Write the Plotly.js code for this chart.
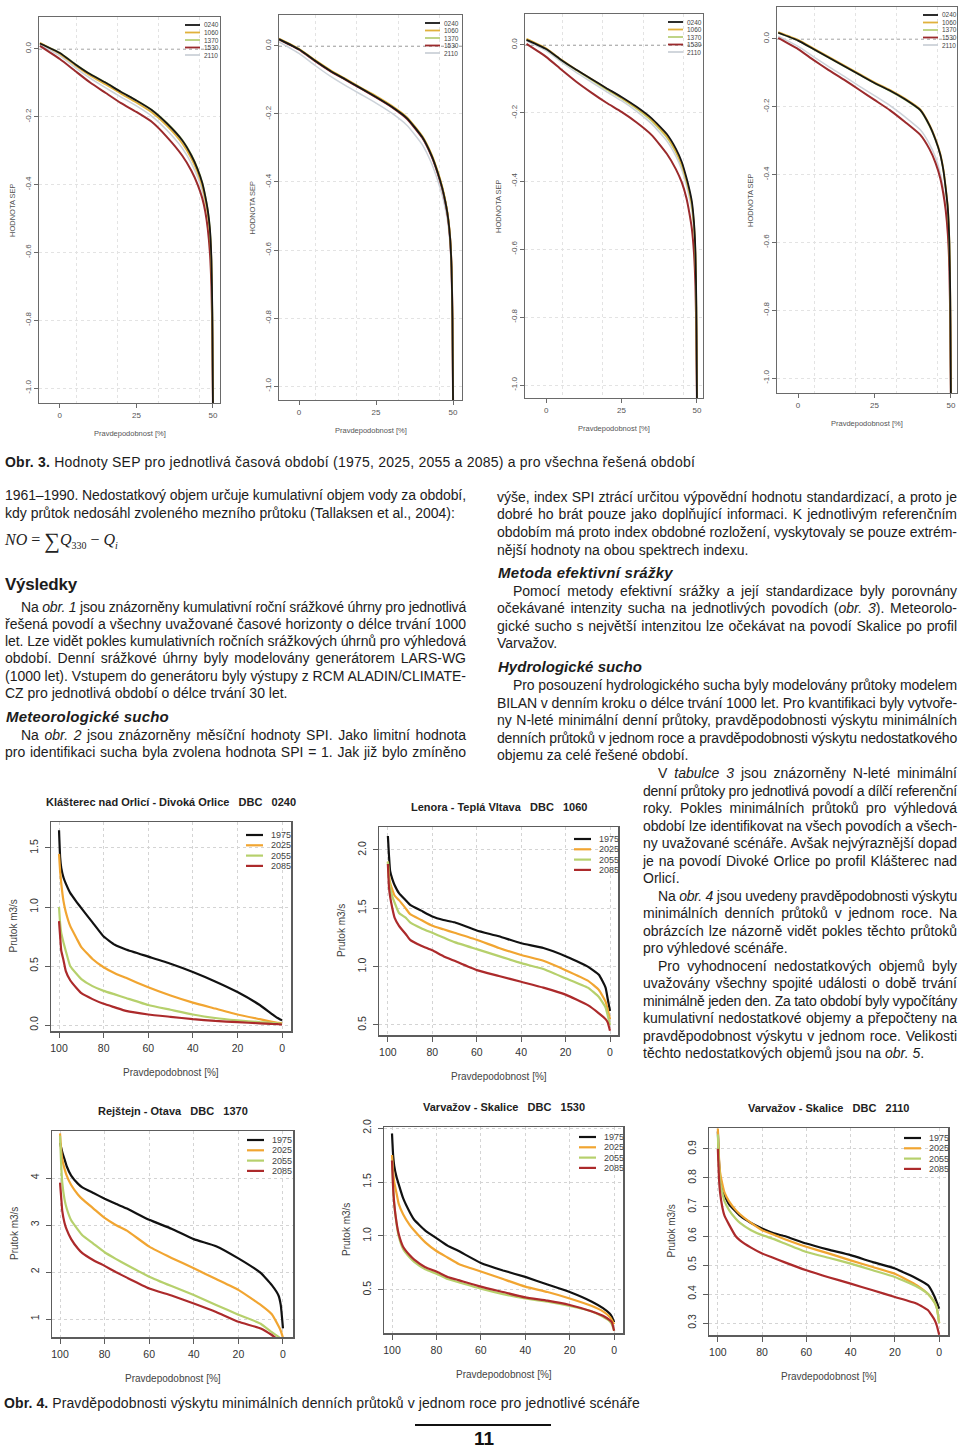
<!DOCTYPE html>
<html><head><meta charset="utf-8">
<script src="https://cdn.plot.ly/plotly-3.0.1.min.js"></script>
<style>
body{margin:0;width:960px;height:1448px;position:relative;background:#fff;font-family:"Liberation Sans",Arial,sans-serif;color:#1c1c1c;overflow:hidden}
.pc{position:absolute}
.ln{position:absolute;white-space:nowrap;font-size:14px;line-height:18px;height:18px}
.ln span{white-space:nowrap}
.h1{font-size:17px;font-weight:bold}
.h2{font-size:15px;font-weight:bold;font-style:italic}
</style></head><body>
<script>
// ---------- Obr. 3: SEP curves ----------
const sepX = [-6.5,0,5,10,15,20,25,30,35,40,43,45,46.5,47.5,48.3,49,49.5,49.8,50];
const sepBasins = ['0240','1060','1370','1530','2110'];
const sepPeriods = ['1975','2025','2055','2085'];

const sep1975_0240 = [0.016,-0.012,-0.045,-0.075,-0.1,-0.127,-0.152,-0.18,-0.22,-0.27,-0.315,-0.355,-0.395,-0.435,-0.475,-0.53,-0.62,-0.78,-1.05];
const sep1975_1060 = [0.018,-0.014,-0.048,-0.079,-0.105,-0.132,-0.158,-0.187,-0.227,-0.279,-0.324,-0.364,-0.404,-0.444,-0.486,-0.54,-0.63,-0.79,-1.05];
const sep1975_1370 = [0.016,-0.011,-0.044,-0.074,-0.099,-0.126,-0.151,-0.179,-0.218,-0.268,-0.312,-0.352,-0.392,-0.432,-0.472,-0.525,-0.615,-0.77,-1.05];
const sep1975_1530 = [0.009,-0.03,-0.065,-0.1,-0.13,-0.16,-0.186,-0.215,-0.26,-0.315,-0.36,-0.4,-0.44,-0.48,-0.53,-0.6,-0.7,-0.85,-1.05];
const sep1975_2110 = [0.013,-0.02,-0.055,-0.087,-0.115,-0.142,-0.168,-0.198,-0.24,-0.293,-0.338,-0.378,-0.418,-0.458,-0.5,-0.56,-0.66,-0.8,-1.05];

const sep2025_0240 = [0.02,-0.01,-0.042,-0.072,-0.098,-0.124,-0.15,-0.178,-0.212,-0.268,-0.322,-0.372,-0.418,-0.458,-0.5,-0.56,-0.65,-0.8,-1.05];
const sep2025_1060 = [0.022,-0.008,-0.04,-0.07,-0.096,-0.122,-0.147,-0.175,-0.209,-0.265,-0.318,-0.368,-0.414,-0.454,-0.496,-0.555,-0.645,-0.79,-1.05];
const sep2025_1370 = [0.02,-0.009,-0.041,-0.071,-0.097,-0.123,-0.149,-0.177,-0.211,-0.267,-0.32,-0.37,-0.416,-0.456,-0.498,-0.558,-0.648,-0.795,-1.05];
const sep2025_1530 = [0.019,-0.011,-0.043,-0.073,-0.099,-0.125,-0.151,-0.179,-0.214,-0.27,-0.324,-0.374,-0.42,-0.46,-0.502,-0.562,-0.652,-0.8,-1.05];
const sep2025_2110 = [0.012,-0.022,-0.056,-0.088,-0.116,-0.142,-0.168,-0.197,-0.233,-0.29,-0.345,-0.395,-0.44,-0.48,-0.52,-0.58,-0.67,-0.82,-1.05];

const sep2055_0240 = [0.015,-0.012,-0.044,-0.073,-0.1,-0.127,-0.153,-0.182,-0.216,-0.262,-0.305,-0.345,-0.39,-0.425,-0.46,-0.52,-0.61,-0.77,-1.05];
const sep2055_1060 = [0.018,-0.01,-0.043,-0.073,-0.1,-0.128,-0.155,-0.185,-0.22,-0.268,-0.312,-0.352,-0.397,-0.432,-0.468,-0.528,-0.618,-0.78,-1.05];
const sep2055_1370 = [0.016,-0.012,-0.045,-0.075,-0.103,-0.131,-0.158,-0.188,-0.224,-0.272,-0.316,-0.356,-0.4,-0.436,-0.472,-0.532,-0.622,-0.785,-1.05];
const sep2055_1530 = [0.003,-0.035,-0.072,-0.108,-0.14,-0.17,-0.197,-0.228,-0.265,-0.32,-0.365,-0.405,-0.45,-0.495,-0.54,-0.61,-0.71,-0.86,-1.05];
const sep2055_2110 = [0.012,-0.017,-0.05,-0.081,-0.109,-0.137,-0.164,-0.195,-0.232,-0.282,-0.327,-0.368,-0.413,-0.45,-0.488,-0.55,-0.64,-0.8,-1.05];

const sep2085_0240 = [0.018,-0.005,-0.03,-0.055,-0.08,-0.105,-0.13,-0.152,-0.178,-0.21,-0.255,-0.298,-0.34,-0.385,-0.44,-0.5,-0.6,-0.77,-1.05];
const sep2085_1060 = [0.02,-0.003,-0.028,-0.053,-0.078,-0.103,-0.128,-0.15,-0.176,-0.208,-0.253,-0.295,-0.337,-0.382,-0.437,-0.497,-0.597,-0.765,-1.05];
const sep2085_1370 = [0.017,-0.006,-0.031,-0.056,-0.081,-0.106,-0.131,-0.154,-0.18,-0.212,-0.258,-0.3,-0.342,-0.387,-0.442,-0.502,-0.602,-0.775,-1.05];
const sep2085_1530 = [0.003,-0.03,-0.062,-0.092,-0.12,-0.15,-0.18,-0.21,-0.245,-0.283,-0.325,-0.366,-0.41,-0.455,-0.505,-0.575,-0.675,-0.84,-1.05];
const sep2085_2110 = [0.008,-0.022,-0.052,-0.082,-0.11,-0.139,-0.167,-0.196,-0.23,-0.268,-0.31,-0.35,-0.395,-0.44,-0.49,-0.56,-0.66,-0.82,-1.05];

const sepYTicks = [0,-0.2,-0.4,-0.6,-0.8,-1.0];
const sepYTickText = ['0.0','-0.2','-0.4','-0.6','-0.8','-1.0'];
const sepXTicks = [0,25,50];

// ---------- Obr. 4: minimum daily flows ----------
const fdcX = [100,99.5,99,98,97,95,92,90,85,80,75,70,60,50,40,30,20,10,5,2,1,0];
const fdcYears = ['1975','2025','2055','2085'];
const fdcTitles = [
  'Klášterec nad Orlicí - Divoká Orlice\u00a0\u00a0\u00a0DBC\u00a0\u00a0\u00a00240',
  'Lenora - Teplá Vltava\u00a0\u00a0\u00a0DBC\u00a0\u00a0\u00a01060',
  'Rejštejn - Otava\u00a0\u00a0\u00a0DBC\u00a0\u00a0\u00a01370',
  'Varvažov - Skalice\u00a0\u00a0\u00a0DBC\u00a0\u00a0\u00a01530',
  'Varvažov - Skalice\u00a0\u00a0\u00a0DBC\u00a0\u00a0\u00a02110'
];
const fdc0240_1975 = [1.65,1.42,1.33,1.25,1.2,1.12,1.04,0.99,0.87,0.75,0.68,0.64,0.58,0.52,0.45,0.37,0.28,0.17,0.1,0.06,0.05,0.04];
const fdc0240_2025 = [1.45,1.3,1.2,1.05,0.96,0.84,0.73,0.66,0.56,0.49,0.44,0.4,0.32,0.25,0.19,0.14,0.09,0.05,0.03,0.02,0.018,0.015];
const fdc0240_2055 = [1.0,0.86,0.78,0.7,0.63,0.5,0.43,0.39,0.33,0.29,0.26,0.23,0.17,0.13,0.09,0.06,0.04,0.025,0.02,0.015,0.012,0.01];
const fdc0240_2085 = [0.88,0.75,0.63,0.55,0.46,0.38,0.31,0.27,0.22,0.18,0.15,0.12,0.09,0.07,0.05,0.035,0.025,0.015,0.01,0.008,0.006,0.005];

const fdc1060_1975 = [2.12,1.95,1.82,1.75,1.7,1.63,1.57,1.53,1.48,1.43,1.4,1.38,1.31,1.26,1.2,1.16,1.09,1.0,0.93,0.82,0.72,0.62];
const fdc1060_2025 = [1.9,1.78,1.72,1.66,1.61,1.57,1.5,1.45,1.4,1.35,1.32,1.29,1.23,1.16,1.1,1.05,0.97,0.88,0.8,0.7,0.63,0.55];
const fdc1060_2055 = [1.9,1.75,1.68,1.6,1.55,1.46,1.42,1.38,1.33,1.29,1.25,1.21,1.15,1.09,1.03,0.98,0.9,0.82,0.74,0.65,0.58,0.5];
const fdc1060_2085 = [1.88,1.68,1.6,1.5,1.42,1.35,1.28,1.23,1.18,1.14,1.09,1.05,0.97,0.92,0.87,0.82,0.76,0.67,0.6,0.55,0.52,0.45];

const fdc1370_1975 = [4.75,4.65,4.55,4.4,4.25,4.05,3.88,3.8,3.68,3.56,3.45,3.35,3.11,2.92,2.7,2.55,2.29,1.98,1.72,1.5,1.3,0.8];
const fdc1370_2025 = [4.95,4.6,4.4,4.2,4.05,3.85,3.65,3.55,3.35,3.15,3.0,2.88,2.54,2.3,2.08,1.85,1.62,1.3,1.1,0.85,0.75,0.6];
const fdc1370_2055 = [4.9,4.3,3.9,3.55,3.35,3.1,2.9,2.78,2.6,2.42,2.28,2.15,1.9,1.7,1.51,1.3,1.09,0.9,0.72,0.62,0.58,0.55];
const fdc1370_2085 = [3.9,3.6,3.3,3.05,2.9,2.7,2.5,2.4,2.25,2.13,2.0,1.88,1.65,1.5,1.33,1.15,0.94,0.8,0.66,0.55,0.52,0.5];

const fdc1530_1975 = [1.95,1.75,1.65,1.55,1.48,1.35,1.22,1.15,1.05,0.98,0.91,0.86,0.75,0.68,0.62,0.55,0.48,0.39,0.33,0.28,0.25,0.2];
const fdc1530_2025 = [1.75,1.6,1.5,1.4,1.3,1.2,1.1,1.05,0.94,0.86,0.8,0.74,0.67,0.6,0.53,0.48,0.42,0.35,0.3,0.25,0.22,0.18];
const fdc1530_2055 = [1.7,1.45,1.3,1.12,1.0,0.88,0.8,0.76,0.69,0.65,0.6,0.57,0.51,0.46,0.42,0.39,0.35,0.3,0.25,0.21,0.18,0.12];
const fdc1530_2085 = [1.7,1.45,1.3,1.13,1.02,0.9,0.82,0.78,0.71,0.67,0.62,0.59,0.53,0.48,0.43,0.4,0.36,0.3,0.26,0.22,0.2,0.12];

const fdc2110_1975 = [0.96,0.86,0.8,0.76,0.74,0.71,0.685,0.67,0.645,0.626,0.61,0.6,0.574,0.553,0.534,0.51,0.488,0.453,0.43,0.39,0.37,0.35];
const fdc2110_2025 = [0.97,0.87,0.82,0.78,0.75,0.72,0.69,0.675,0.645,0.62,0.605,0.59,0.563,0.54,0.516,0.493,0.47,0.43,0.4,0.37,0.35,0.3];
const fdc2110_2055 = [0.95,0.84,0.79,0.75,0.72,0.69,0.66,0.645,0.62,0.603,0.59,0.575,0.545,0.525,0.505,0.482,0.459,0.425,0.4,0.37,0.35,0.3];
const fdc2110_2085 = [0.9,0.8,0.75,0.7,0.67,0.64,0.6,0.585,0.56,0.54,0.525,0.51,0.482,0.458,0.436,0.413,0.39,0.367,0.344,0.31,0.29,0.26];

const fdcXTicks = [100,80,60,40,20,0];
const yt0240 = [0,0.5,1.0,1.5], ytt0240 = ['0.0','0.5','1.0','1.5'];
const yt1060 = [0.5,1.0,1.5,2.0], ytt1060 = ['0.5','1.0','1.5','2.0'];
const yt1370 = [1,2,3,4], ytt1370 = ['1','2','3','4'];
const yt1530 = [0.5,1.0,1.5,2.0], ytt1530 = ['0.5','1.0','1.5','2.0'];
const yt2110 = [0.3,0.4,0.5,0.6,0.7,0.8,0.9], ytt2110 = ['0.3','0.4','0.5','0.6','0.7','0.8','0.9'];

// ---------- styles ----------
const FONT = '"Liberation Sans", Arial, sans-serif';
const sepColors = {'0240':'#161616','1060':'#e0b13c','1370':'#b8d07a','1530':'#9b2a2c','2110':'#ccd2d9'};
const sepWidths = {'0240':1.8,'1060':1.8,'1370':1.5,'1530':2,'2110':1.5};
const fdcColors = {'1975':'#111111','2025':'#f1a531','2055':'#b6d06c','2085':'#ac2a2b'};

function frame(id, c, p) {
  const el = document.createElement('div');
  el.id = id; el.className = 'pc';
  el.style.left = c[0]+'px'; el.style.top = c[1]+'px';
  el.style.width = c[2]+'px'; el.style.height = c[3]+'px';
  document.body.appendChild(el);
  return {el, width:c[2], height:c[3],
    margin:{l:p[0]-c[0], t:p[1]-c[1], r:c[0]+c[2]-p[2], b:c[1]+c[3]-p[3], pad:0},
    bw:p[2]-p[0], bh:p[3]-p[1]};
}

function legend(layout, f, names, colors, o) {
  names.forEach((n,i)=>{
    const y = 1 - (o.dy + i*o.step)/f.bh;
    layout.shapes.push({type:'line', xref:'paper', yref:'paper', x0:o.dx/f.bw, x1:(o.dx+o.len)/f.bw, y0:y, y1:y, line:{color:colors[n], width:o.lw}});
    layout.annotations.push({xref:'paper', yref:'paper', x:o.tdx/f.bw, y:y, xanchor:'left', yanchor:'middle', showarrow:false, text:n, font:{family:FONT, size:o.fs, color:'#444'}});
  });
}

// ---------- SEP panels ----------
const sepFrames = [
  {c:[0,0,240,445],   p:[39,17,220,403],  xr:[-6.8,52.3], yr:[-1.044,0.094], ldx:146, ldy:8},
  {c:[240,0,250,445], p:[279,15,462,400], xr:[-6.5,52.9], yr:[-1.041,0.091], ldx:146, ldy:8},
  {c:[490,0,240,445], p:[525,14,703,398], xr:[-7.0,52.0], yr:[-1.038,0.091], ldx:143, ldy:8},
  {c:[730,0,230,445], p:[777,7,957,393],  xr:[-6.9,52.0], yr:[-1.044,0.094], ldx:146, ldy:8}
];
const drawOrder = ['2110','1530','1370','1060','0240'];
sepPeriods.forEach((per, k)=>{
  const cfg = sepFrames[k];
  const f = frame('sep'+per, cfg.c, cfg.p);
  const seriesMap = {
    '1975':{'0240':sep1975_0240,'1060':sep1975_1060,'1370':sep1975_1370,'1530':sep1975_1530,'2110':sep1975_2110},
    '2025':{'0240':sep2025_0240,'1060':sep2025_1060,'1370':sep2025_1370,'1530':sep2025_1530,'2110':sep2025_2110},
    '2055':{'0240':sep2055_0240,'1060':sep2055_1060,'1370':sep2055_1370,'1530':sep2055_1530,'2110':sep2055_2110},
    '2085':{'0240':sep2085_0240,'1060':sep2085_1060,'1370':sep2085_1370,'1530':sep2085_1530,'2110':sep2085_2110}
  }[per];
  const traces = drawOrder.map(b=>({x:sepX, y:seriesMap[b], type:'scatter', mode:'lines', name:b,
    line:{color:sepColors[b], width:sepWidths[b], shape:'spline', smoothing:0.5}, hoverinfo:'skip'}));
  const ax = {showline:true, mirror:true, linecolor:'#6a6a6a', linewidth:1.2, ticks:'outside', ticklen:4, tickwidth:1, tickcolor:'#6a6a6a', zeroline:false,
    tickfont:{family:FONT, size:8, color:'#555'}};
  const layout = {width:f.width, height:f.height, margin:f.margin, paper_bgcolor:'#fff', plot_bgcolor:'#fff', showlegend:false,
    font:{family:FONT, size:8, color:'#555'},
    xaxis:Object.assign({}, ax, {range:cfg.xr, tickmode:'array', tickvals:sepXTicks, showgrid:false,
      minor:{tickmode:'array', tickvals:[5.3,18.7,32.3,45.7], showgrid:true, gridcolor:'#e3e3e3', griddash:'dot', gridwidth:1, ticks:'', ticklen:0}}),
    yaxis:Object.assign({}, ax, {range:cfg.yr, tickmode:'array', tickvals:sepYTicks, ticktext:sepYTickText, tickangle:-90,
      showgrid:true, gridcolor:'#e3e3e3', griddash:'dot', gridwidth:1}),
    shapes:[{type:'line', xref:'paper', x0:0, x1:1, yref:'y', y0:0, y1:0, line:{color:'#555', width:1, dash:'dot'}, layer:'below'}],
    annotations:[
      {xref:'paper', yref:'paper', x:0.5, y:0, yshift:-30, xanchor:'center', yanchor:'middle', showarrow:false, text:'Pravdepodobnost [%]', font:{family:FONT, size:7.5, color:'#555'}},
      {xref:'paper', yref:'paper', x:0, y:0.5, xshift:-27, xanchor:'center', yanchor:'middle', textangle:-90, showarrow:false, text:'HODNOTA SEP', font:{family:FONT, size:7.5, color:'#555'}}
    ]};
  legend(layout, f, sepBasins, sepColors, {dx:cfg.ldx, dy:cfg.ldy, step:7.5, len:15, tdx:cfg.ldx+17, fs:6.5, lw:1.8});
  Plotly.newPlot(f.el, traces, layout, {staticPlot:true, displayModeBar:false});
});

// ---------- flow panels ----------
const fdcFrames = [
  {id:'0240', c:[0,785,320,300],   p:[51,822,291,1031],   xr:[103.6,-4], yr:[-0.05,1.72],   yt:yt0240, ytt:ytt0240, ldy:13, s:[fdc0240_1975,fdc0240_2025,fdc0240_2055,fdc0240_2085]},
  {id:'1060', c:[320,785,320,300], p:[379,827,618,1035],  xr:[104,-3.6], yr:[0.414,2.197],  yt:yt1060, ytt:ytt1060, ldy:12, s:[fdc1060_1975,fdc1060_2025,fdc1060_2055,fdc1060_2085]},
  {id:'1370', c:[0,1090,320,300],  p:[52,1131,293,1337],  xr:[103.6,-4.5], yr:[0.617,5.0], yt:yt1370, ytt:ytt1370, ldy:9,  s:[fdc1370_1975,fdc1370_2025,fdc1370_2055,fdc1370_2085]},
  {id:'1530', c:[320,1090,320,300],p:[384,1127,623,1333], xr:[103.6,-4], yr:[0.1,2.01],     yt:yt1530, ytt:ytt1530, ldy:10, s:[fdc1530_1975,fdc1530_2025,fdc1530_2055,fdc1530_2085]},
  {id:'2110', c:[640,1090,320,300],p:[709,1128,948,1335], xr:[104,-4], yr:[0.259,0.972],    yt:yt2110, ytt:ytt2110, ldy:10, s:[fdc2110_1975,fdc2110_2025,fdc2110_2055,fdc2110_2085]}
];
fdcFrames.forEach((cfg, k)=>{
  const f = frame('fdc'+cfg.id, cfg.c, cfg.p);
  const traces = fdcYears.map((yr,i)=>({x:fdcX, y:cfg.s[i], type:'scatter', mode:'lines', name:yr,
    line:{color:fdcColors[yr], width:2.2, shape:'spline', smoothing:0.4}, hoverinfo:'skip'}));
  const ax = {showline:true, mirror:true, linecolor:'#5c5c5c', linewidth:1.5, ticks:'outside', ticklen:5, tickwidth:1, tickcolor:'#5c5c5c', zeroline:false,
    showgrid:true, gridcolor:'#d4d4d4', griddash:'dot', gridwidth:1, tickfont:{family:FONT, size:10.5, color:'#333'}};
  const layout = {width:f.width, height:f.height, margin:f.margin, paper_bgcolor:'#fff', plot_bgcolor:'#fff', showlegend:false,
    font:{family:FONT, size:10, color:'#333'},
    xaxis:Object.assign({}, ax, {range:cfg.xr, tickmode:'array', tickvals:fdcXTicks, ticklabelstandoff:2}),
    yaxis:Object.assign({}, ax, {range:cfg.yr, tickmode:'array', tickvals:cfg.yt, ticktext:cfg.ytt, tickangle:-90, ticklabelstandoff:2}),
    shapes:[], annotations:[
      {xref:'paper', yref:'paper', x:0.5, y:1, yshift:20, xanchor:'center', yanchor:'middle', showarrow:false, text:'<b>'+fdcTitles[k]+'</b>', font:{family:FONT, size:11, color:'#222'}},
      {xref:'paper', yref:'paper', x:0.5, y:0, yshift:-41, xanchor:'center', yanchor:'middle', showarrow:false, text:'Pravdepodobnost [%]', font:{family:FONT, size:10, color:'#444'}},
      {xref:'paper', yref:'paper', x:0, y:0.5, xshift:-38, xanchor:'center', yanchor:'middle', textangle:-90, showarrow:false, text:'Prutok m3/s', font:{family:FONT, size:10, color:'#444'}}
    ]};
  legend(layout, f, fdcYears, fdcColors, {dx:195, dy:cfg.ldy, step:10.3, len:17, tdx:218, fs:9, lw:2.2});
  Plotly.newPlot(f.el, traces, layout, {staticPlot:true, displayModeBar:false});
});

// ---------- page text ----------
const textLines = [
  [5,462,690,'f','','<b>Obr. 3.</b> Hodnoty SEP pro jednotlivá časová období (1975, 2025, 2055 a 2085) a pro všechna řešená období'],
  [5,495,461,'j','','1961–1990. Nedostatkový objem určuje kumulativní objem vody za období,'],
  [5,513,461,'l','','kdy průtok nedosáhl zvoleného mezního průtoku (Tallaksen et al., 2004):'],
  [5,585,72,'f','h1','Výsledky'],
  [21,607,445,'j','','Na <i>obr. 1</i> jsou znázorněny kumulativní roční srážkové úhrny pro jednotlivá'],
  [5,624,461,'j','','řešená povodí a všechny uvažované časové horizonty o délce trvání 1000'],
  [5,641,461,'j','','let. Lze vidět pokles kumulativních ročních srážkových úhrnů pro výhledová'],
  [5,658,461,'j','','období. Denní srážkové úhrny byly modelovány generátorem LARS-WG'],
  [5,676,461,'j','','(1000 let). Vstupem do generátoru byly výstupy z RCM ALADIN/CLIMATE-'],
  [5,693,461,'l','','CZ pro jednotlivá období o délce trvání 30 let.'],
  [6,717,163,'f','h2','Meteorologické sucho'],
  [21,735,445,'j','','Na <i>obr. 2</i> jsou znázorněny měsíční hodnoty SPI. Jako limitní hodnota'],
  [5,752,461,'j','','pro identifikaci sucha byla zvolena hodnota SPI = 1. Jak již bylo zmíněno'],

  [497,497,460,'j','','výše, index SPI ztrácí určitou výpovědní hodnotu standardizací, a proto je'],
  [497,514,460,'j','','dobré ho brát pouze jako doplňující informaci. K jednotlivým referenčním'],
  [497,532,460,'j','','obdobím má proto index obdobné rozložení, vyskytovaly se pouze extrém-'],
  [497,550,460,'l','','nější hodnoty na obou spektrech indexu.'],
  [498,573,175,'f','h2','Metoda efektivní srážky'],
  [513,591,444,'j','','Pomocí metody efektivní srážky a její standardizace byly porovnány'],
  [497,608,460,'j','','očekávané intenzity sucha na jednotlivých povodích (<i>obr. 3</i>). Meteorolo-'],
  [497,626,460,'j','','gické sucho s největší intenzitou lze očekávat na povodí Skalice po profil'],
  [497,643,460,'l','','Varvažov.'],
  [498,667,144,'f','h2','Hydrologické sucho'],
  [513,685,444,'j','','Pro posouzení hydrologického sucha byly modelovány průtoky modelem'],
  [497,703,460,'j','','BILAN v denním kroku o délce trvání 1000 let. Pro kvantifikaci byly vytvoře-'],
  [497,720,460,'j','','ny N-leté minimální denní průtoky, pravděpodobnosti výskytu minimálních'],
  [497,738,460,'j','','denních průtoků v jednom roce a pravděpodobnosti výskytu nedostatkového'],
  [497,755,460,'l','','objemu za celé řešené období.'],

  [658,773,299,'j','','V <i>tabulce 3</i> jsou znázorněny N-leté minimální'],
  [643,791,314,'j','','denní průtoky pro jednotlivá povodí a dílčí referenční'],
  [643,808,314,'j','','roky. Pokles minimálních průtoků pro výhledová'],
  [643,826,314,'j','','období lze identifikovat na všech povodích a všech-'],
  [643,843,314,'j','','ny uvažované scénáře. Avšak nejvýraznější dopad'],
  [643,861,314,'j','','je na povodí Divoké Orlice po profil Klášterec nad'],
  [643,878,314,'l','','Orlicí.'],
  [658,896,299,'j','','Na <i>obr. 4</i> jsou uvedeny pravděpodobnosti výskytu'],
  [643,913,314,'j','','minimálních denních průtoků v jednom roce. Na'],
  [643,931,314,'j','','obrázcích lze názorně vidět pokles těchto průtoků'],
  [643,948,314,'l','','pro výhledové scénáře.'],
  [658,966,299,'j','','Pro vyhodnocení nedostatkových objemů byly'],
  [643,983,314,'j','','uvažovány všechny spojité události o době trvání'],
  [643,1001,314,'j','','minimálně jeden den. Za tato období byly vypočítány'],
  [643,1018,314,'j','','kumulativní nedostatkové objemy a přepočteny na'],
  [643,1036,314,'j','','pravděpodobnost výskytu v jednom roce. Velikosti'],
  [643,1053,314,'l','','těchto nedostatkových objemů jsou na <i>obr. 5</i>.'],

  [4,1403,636,'f','','<b>Obr. 4.</b> Pravděpodobnosti výskytu minimálních denních průtoků v jednom roce pro jednotlivé scénáře']
];
textLines.forEach(t=>{
  const d = document.createElement('div');
  d.className = 'ln' + (t[4] ? ' '+t[4] : '');
  d.style.left = t[0]+'px'; d.style.top = (t[1]-9)+'px'; d.style.width = t[2]+'px';
  d.dataset.w = t[2]; d.dataset.m = t[3];
  d.innerHTML = '<span>'+t[5]+'</span>';
  document.body.appendChild(d);
});

// formula
const fm = document.createElement('div');
fm.style.cssText = 'position:absolute;left:5px;top:528px;font-family:"Liberation Serif","Times New Roman",serif;font-size:16px;line-height:24px;white-space:nowrap;color:#222';
fm.innerHTML = '<i>NO</i> = <span style="font-size:22px;vertical-align:-3px">∑</span><i>Q</i><sub style="font-size:10px">330</sub> − <i>Q</i><sub style="font-size:10px"><i>i</i></sub>';
document.body.appendChild(fm);

// page footer
const rule = document.createElement('div');
rule.style.cssText = 'position:absolute;left:415px;top:1424px;width:136px;height:2px;background:#111';
document.body.appendChild(rule);
const pg = document.createElement('div');
pg.style.cssText = 'position:absolute;left:454px;top:1429px;width:60px;height:19px;text-align:center;font-weight:bold;font-size:19px;line-height:19px;color:#111';
pg.textContent = '11';
document.body.appendChild(pg);

function fitLines(){
  document.querySelectorAll('.ln').forEach(el=>{
    const sp = el.querySelector('span');
    const tw = parseFloat(el.dataset.w), m = el.dataset.m;
    sp.style.letterSpacing = '0px'; sp.style.wordSpacing = '0px';
    const w = sp.getBoundingClientRect().width;
    const n = sp.textContent.length;
    if (m === 'j') {
      if (w > tw) sp.style.letterSpacing = ((tw - w)/n) + 'px';
      else { const s = (sp.textContent.match(/ /g)||[]).length; if (s) sp.style.wordSpacing = ((tw - w)/s) + 'px'; }
    } else if (m === 'f') {
      sp.style.letterSpacing = ((tw - w)/n) + 'px';
    } else if (w > tw) {
      sp.style.letterSpacing = ((tw - w)/n) + 'px';
    }
  });
}
fitLines();
if (document.fonts && document.fonts.ready) document.fonts.ready.then(fitLines);
</script>
</body></html>
